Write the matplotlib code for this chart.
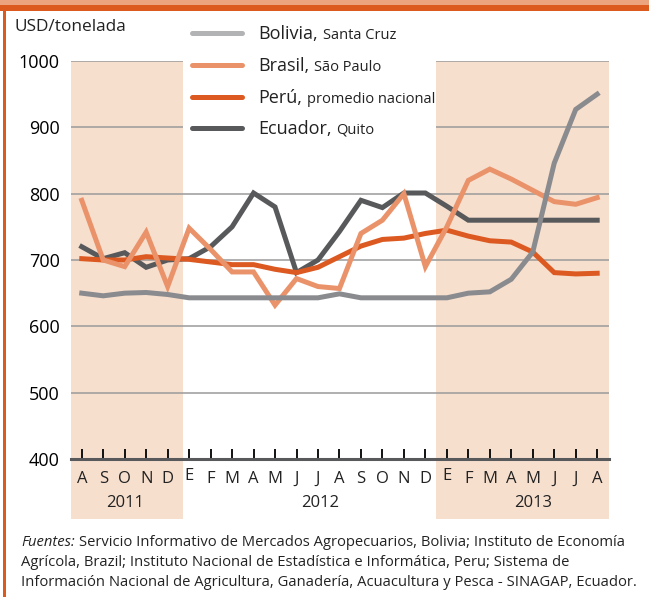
import numpy as np
import matplotlib.pyplot as plt
from matplotlib.patches import Rectangle
from matplotlib.lines import Line2D
from matplotlib.transforms import blended_transform_factory

plt.rcParams['font.family'] = ['Open Sans', 'DejaVu Sans']

W, H = 649, 597

months = ['A', 'S', 'O', 'N', 'D', 'E', 'F', 'M', 'A', 'M', 'J', 'J', 'A',
          'S', 'O', 'N', 'D', 'E', 'F', 'M', 'A', 'M', 'J', 'J', 'A']
years = ['2011', '2012', '2013']
year_pos = [2, 11.1, 21]

bolivia = [650, 646, 650, 651, 648, 643, 643, 643, 643, 643, 643, 643, 649,
           643, 643, 643, 643, 643, 650, 652, 671, 712, 846, 927, 950]
brasil = [790, 700, 690, 742, 660, 748, 716, 682, 682, 632, 672, 660, 657,
          740, 760, 800, 690, 750, 820, 837, 822, 805, 788, 784, 794]
peru = [702, 700, 700, 705, 703, 701, 697, 693, 693, 686, 681, 689, 705,
        721, 731, 733, 740, 745, 736, 729, 727, 712, 681, 679, 680]
ecuador = [720, 702, 711, 689, 700, 702, 720, 750, 801, 780, 681, 700, 743,
           790, 779, 801, 801, 781, 760, 760, 760, 760, 760, 760, 760]

names = ['Bolivia,', 'Brasil,', 'Perú,', 'Ecuador,']
places = ['Santa Cruz', 'São Paulo', 'promedio nacional', 'Quito']
line_cols = ['#8a8b8e', '#ea936b', '#dc5a21', '#58595b']
swatch_cols = ['#b2b3b5', '#ea936b', '#dc5a21', '#58595b']

shade = '#f7dfce'
x = np.arange(len(months))

fig = plt.figure(figsize=(W / 100, H / 100), dpi=100)
ax = fig.add_axes([71 / W, 1 - 459 / H, (609 - 71) / W, (459 - 61) / H])

# shaded years (reach down behind the labels)
tr = blended_transform_factory(ax.transData, ax.transAxes)
for x0, x1 in [(-0.5, 4.7), (16.5, 24.55)]:
    ax.add_patch(Rectangle((x0, -0.15), x1 - x0, 1.15, transform=tr,
                           facecolor=shade, edgecolor='none', zorder=0,
                           clip_on=False))

for yv in range(500, 1001, 100):
    ax.axhline(yv, color='#9a9a9a', lw=1.1, zorder=1)

# white box behind the legend
ax.add_patch(Rectangle((4.7, 873), 16.5 - 4.7, 140, facecolor='white',
                       edgecolor='none', zorder=1.5, clip_on=False))

series = [bolivia, brasil, peru, ecuador]
zs = [5, 4, 3, 2]
for s, c, z in zip(series, line_cols, zs):
    ax.plot(x, s, color=c, lw=3.6, zorder=z, solid_joinstyle='miter')

ax.set_xlim(-0.5, 24.55)
ax.set_ylim(400, 1000)
ax.set_yticks(range(400, 1001, 100))
ax.tick_params(axis='y', length=0, labelsize=13, pad=8)
ax.set_xticks(x)
ax.set_xticklabels([])
ax.tick_params(axis='x', direction='in', length=7, width=1.4, color='#111111')
for sp in ['left', 'right', 'top']:
    ax.spines[sp].set_visible(False)
ax.spines['bottom'].set_color('#58595b')
ax.spines['bottom'].set_linewidth(2.2)
ax.spines['bottom'].set_zorder(6)
ax.patch.set_alpha(0)

for i, m in enumerate(months):
    yy = 476 if m == 'E' else 479
    fig.text((82 + 21.46 * i) / W, 1 - yy / H, m, fontsize=12,
             ha='center', va='center', color='#222222')
for yl, p in zip(years, year_pos):
    fig.text((82 + 21.46 * p) / W, 1 - 503 / H, yl, fontsize=12,
             ha='center', va='center', color='#222222')

fig.text(15 / W, 1 - 27 / H, 'USD/tonelada', fontsize=12.4, va='center',
         color='#222222')

# legend
renderer = fig.canvas.get_renderer()
rows = [33, 65, 97, 128]
for n, p, c, ry in zip(names, places, swatch_cols, rows):
    fig.add_artist(Line2D([192 / W, 242 / W], [1 - ry / H, 1 - ry / H],
                          color=c, lw=3.6, solid_capstyle='round'))
    t = fig.text(258 / W, 1 - (ry + 6) / H, n, fontsize=13, va='baseline',
                 color='#222222')
    bb = t.get_window_extent(renderer)
    fig.text((bb.x1 + 5) / W, 1 - (ry + 6) / H, p, fontsize=10.5,
             va='baseline', color='#222222')

# footnote
fs = 10.6
t = fig.text(21 / W, 1 - 542 / H, 'Fuentes:', fontsize=fs, style='italic',
             va='center', color='#222222')
bb = t.get_window_extent(renderer)
fig.text((bb.x1 + 4) / W, 1 - 542 / H,
         'Servicio Informativo de Mercados Agropecuarios, Bolivia; '
         'Instituto de Economía', fontsize=fs, va='center', color='#222222')
fig.text(21 / W, 1 - 562 / H, 'Agrícola, Brazil; Instituto Nacional de '
         'Estadística e Informática, Peru; Sistema de', fontsize=fs,
         va='center', color='#222222')
fig.text(21 / W, 1 - 582 / H, 'Información Nacional de Agricultura, '
         'Ganadería, Acuacultura y Pesca - SINAGAP, Ecuador.', fontsize=fs,
         va='center', color='#222222')

# frame
fig.add_artist(Rectangle((0, 1 - 5 / H), 1, 5 / H, transform=fig.transFigure,
                         facecolor='#eca47f', edgecolor='none'))
fig.add_artist(Rectangle((0, 1 - 11 / H), 1, 6 / H, transform=fig.transFigure,
                         facecolor='#dd5a1f', edgecolor='none'))
fig.add_artist(Rectangle((3 / W, 0), 3 / W, 1 - 11 / H,
                         transform=fig.transFigure, facecolor='#dd5a1f',
                         edgecolor='none'))

fig.savefig('out.png', dpi=100)
